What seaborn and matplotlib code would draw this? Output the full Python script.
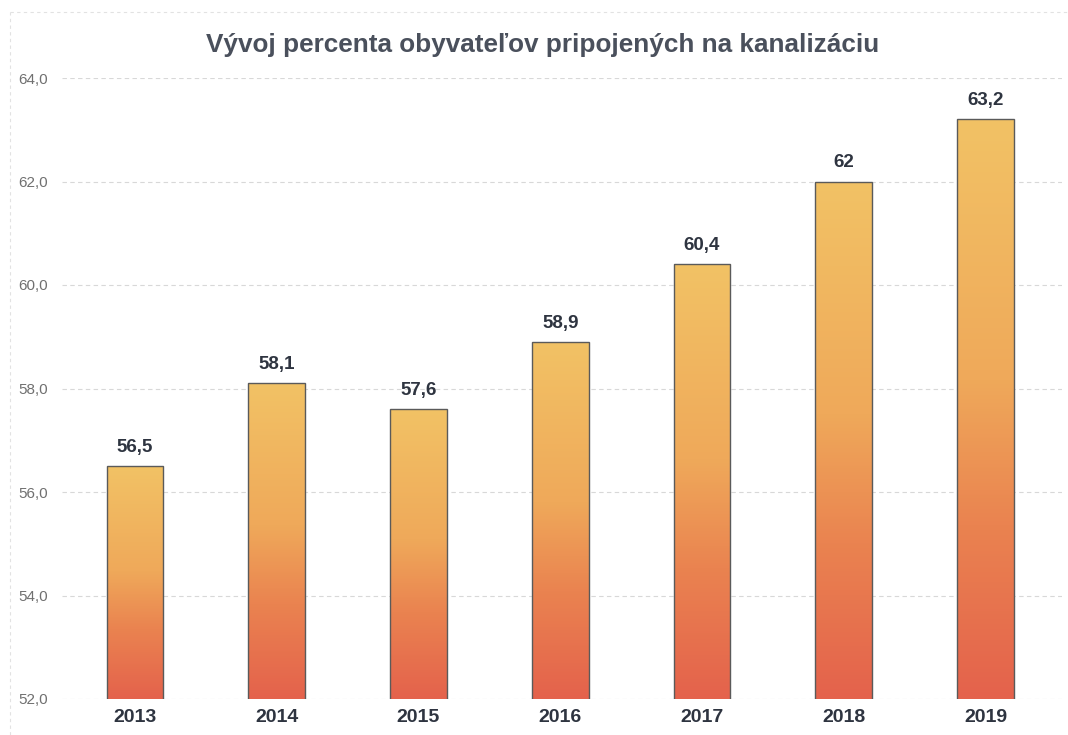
import numpy as np
import pandas as pd
import matplotlib
matplotlib.use("Agg")
import matplotlib.pyplot as plt
import seaborn as sns
from matplotlib.colors import LinearSegmentedColormap
from matplotlib.lines import Line2D

years = ["2013", "2014", "2015", "2016", "2017", "2018", "2019"]
values = [56.5, 58.1, 57.6, 58.9, 60.4, 62.0, 63.2]
value_labels = ["56,5", "58,1", "57,6", "58,9", "60,4", "62", "63,2"]
yticks = [52, 54, 56, 58, 60, 62, 64]
ytick_labels = ["52,0", "54,0", "56,0", "58,0", "60,0", "62,0", "64,0"]
title = "Vývoj percenta obyvateľov pripojených na kanalizáciu"

sns.set_theme(style="white")
plt.rcParams['font.family'] = ['Liberation Sans', 'DejaVu Sans']

df = pd.DataFrame({"year": years, "value": values})

fig = plt.figure(figsize=(10.68, 7.35), dpi=100)
ax = fig.add_axes([62/1068, 36/735, 1000/1068, (699-78)/735])

sns.barplot(data=df, x="year", y="value", ax=ax, width=0.4,
            color="#F0BC62", edgecolor="#5a5a5a", linewidth=1.0, zorder=3)

cmap = LinearSegmentedColormap.from_list(
    "grad", [(0.0, "#E4624C"), (0.3, "#EA8350"), (0.55, "#EFA95A"), (1.0, "#F2C265")])

for patch in ax.patches:
    x0 = patch.get_x()
    w = patch.get_width()
    h = patch.get_height()
    y0 = patch.get_y()
    top = y0 + h
    grad = np.linspace(0, 1, 256).reshape(-1, 1)
    im = ax.imshow(grad, cmap=cmap, origin="lower", aspect="auto",
                   extent=[x0, x0 + w, 52, top], zorder=3.5)
    im.set_clip_path(patch)
    patch.set_facecolor("none")
    patch.set_zorder(4)

ax.set_ylim(52, 64)
ax.set_xlim(-0.515, 6.54)

for i, (v, lab) in enumerate(zip(values, value_labels)):
    ax.text(i, v + 0.2, lab, ha="center", va="bottom", fontsize=13.5,
            fontweight="bold", color="#2e3440", zorder=5)

ax.set_yticks(yticks)
ax.set_yticklabels(ytick_labels)
ax.tick_params(axis="y", length=0, pad=10, labelsize=11, labelcolor="#707070")
ax.tick_params(axis="x", length=0, pad=7, labelsize=14, labelcolor="#2e3440")
for lab in ax.get_xticklabels():
    lab.set_fontweight("bold")
ax.set_xlabel("")
ax.set_ylabel("")
ax.grid(axis="y", color="#d8d8d8", linestyle=(0, (4, 3)), linewidth=0.8, zorder=0)
ax.set_axisbelow(True)
for s in ax.spines.values():
    s.set_visible(False)

# faint outer frame lines
fig.add_artist(Line2D([10/1068, 10/1068], [0, 1 - 12/735], transform=fig.transFigure,
                      color="#e2e2e2", linestyle=(0, (3, 3)), linewidth=0.8))
fig.add_artist(Line2D([10/1068, 1], [1 - 12/735, 1 - 12/735], transform=fig.transFigure,
                      color="#e2e2e2", linestyle=(0, (3, 3)), linewidth=0.8))

fig.text(543/1068, 1 - 45/735, title, ha="center", va="center", fontsize=18.8,
         fontweight="bold", color="#4a505c")

fig.savefig("out.png", dpi=100)
